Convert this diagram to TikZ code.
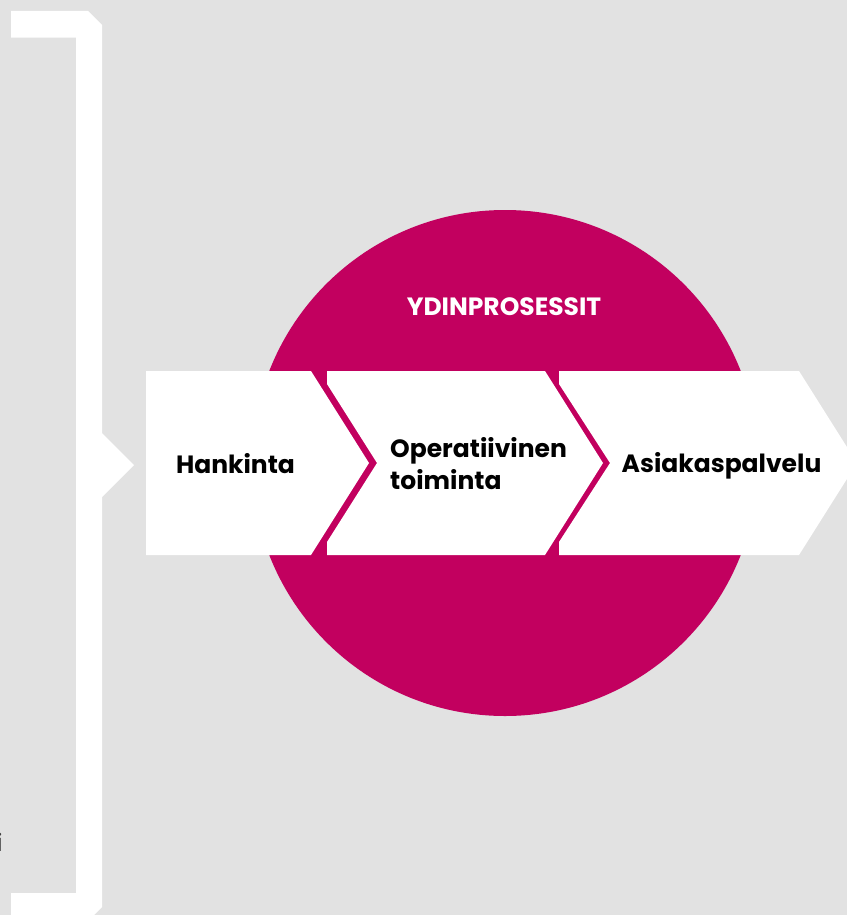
\documentclass[tikz,border=0pt]{standalone}
\usepackage{fontspec}
\setmainfont{Poppins}
\definecolor{bg}{HTML}{E2E2E2}
\definecolor{mag}{HTML}{C2005F}
\definecolor{graytxt}{HTML}{404040}
\begin{document}
\begin{tikzpicture}[x=1pt,y=-1pt,
  chev/.style={fill=white, draw=none},
  lbl/.style={font=\fontsize{25}{32}\selectfont\bfseries, text=black, inner sep=0pt},
  title/.style={font=\fontsize{25}{30}\selectfont\bfseries, text=white, inner sep=0pt}]
\fill[bg] (0,0) rectangle (847,915);
\useasboundingbox (0,0) rectangle (847,915);
\begin{scope}
\clip (0,0) rectangle (847,915);
% bracket
\fill[white] (11,11) -- (88,11) -- (102,25) -- (102,433) -- (134,465) -- (102,497)
  -- (102,907) -- (92,917) -- (11,917) -- (11,893) -- (76,893) -- (76,37.7) -- (11,37.7) -- cycle;
% core circle
\node[circle, fill=mag, minimum size=506pt, inner sep=0pt] (core) at (505,463) {};
% chevrons
\path[chev] (146,371) -- (311,371) -- (369,463) -- (311,555) -- (146,555) -- cycle;
\path[chev] (327,371) -- (545,371) -- (603,463) -- (545,555) -- (327,555) -- (327,542)
  -- (377,463) -- (327,384) -- cycle;
\path[chev] (559,371) -- (799,371) -- (857,463) -- (799,555) -- (559,555) -- (559,542)
  -- (610,463) -- (559,384) -- cycle;
\end{scope}
\node[title, anchor=base] (ttl) at (504,315) {YDINPROSESSIT};
\node[lbl, anchor=base] (hank) at (235.5,473) {Hankinta};
\node[lbl, anchor=base west, align=left] (oper) at (390,489) {Operatiivinen\\toiminta};
\node[lbl, anchor=base] (asia) at (721.5,472) {Asiakaspalvelu};
\node[font=\fontsize{24}{28}\selectfont, text=graytxt, inner sep=0pt, anchor=base east] (icut) at (3,851) {i};
\end{tikzpicture}
\end{document}
